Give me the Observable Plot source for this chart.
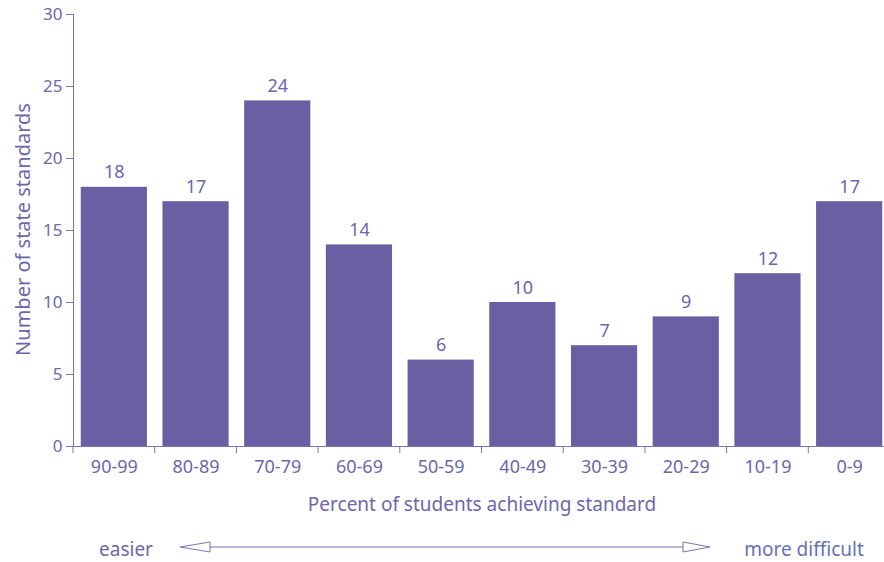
<!DOCTYPE html>
<html>
<head>
<meta charset="utf-8">
<script src="https://cdn.jsdelivr.net/npm/d3@7"></script>
<script src="https://cdn.jsdelivr.net/npm/@observablehq/plot@0.6"></script>
<style>
  html, body { margin: 0; padding: 0; background: #fff; }
  #chart { position: relative; width: 884px; height: 562px; overflow: hidden; }
  #arrow { position: absolute; left: 0; top: 522px; }
</style>
</head>
<body>
<div id="chart"></div>
<script>
const categories = ["90-99","80-89","70-79","60-69","50-59","40-49","30-39","20-29","10-19","0-9"];
const values = [18, 17, 24, 14, 6, 10, 7, 9, 12, 17];
const yTicks = [0, 5, 10, 15, 20, 25, 30];
const yLabel = "Number of state standards";
const xLabel = "Percent of students achieving standard";
const leftNote = "easier";
const rightNote = "more difficult";

const data = categories.map((c, i) => ({cat: c, val: values[i]}));
const barColor = "#6a5fa2";
const textColor = "#6c67ab";
const axisColor = "#7a73b4";
const font = "'Noto Sans', sans-serif";

const plot = Plot.plot({
  width: 884,
  height: 522,
  marginLeft: 73,
  marginRight: 0,
  marginTop: 14,
  marginBottom: 76,
  style: {fontFamily: font, fontSize: "17px", color: textColor, background: "white", overflow: "visible"},
  x: {domain: categories, range: [73, 890], paddingInner: 0.19, paddingOuter: 0.095, align: 0.5, round: false, label: null},
  y: {domain: [0, 30], label: null},
  marks: [
    Plot.barY(data, {x: "cat", y: "val", fill: barColor}),
    Plot.text(data, {x: "cat", y: "val", text: "val", dy: -9, lineAnchor: "bottom", fontSize: 18, fill: textColor}),
    Plot.ruleY([0], {stroke: axisColor, strokeWidth: 1}),
    Plot.frame({anchor: "left", stroke: axisColor, strokeWidth: 1}),
    Plot.axisY({ticks: yTicks, tickSize: 7, tickPadding: 4, fontSize: 17, fill: textColor, stroke: axisColor, label: null}),
    Plot.axisX({tickSize: 0, tickPadding: 14, fontSize: 18, fill: textColor, label: null}),
    Plot.text([yLabel], {frameAnchor: "left", textAnchor: "middle", rotate: -90, dx: -50, dy: -1, fontSize: 20, fill: textColor}),
    Plot.text([xLabel], {frameAnchor: "bottom", dx: 3, dy: 64, fontSize: 19, fill: textColor})
  ]
});

// band-boundary ticks on the x axis, placed with the plot's own x scale
const sx = plot.scale("x");
const sy = plot.scale("y");
const y0 = sy.apply(0);
const gap = (sx.step - sx.bandwidth) / 2;
d3.select(plot).append("g")
  .attr("stroke", axisColor)
  .selectAll("line")
  .data(categories)
  .join("line")
  .attr("x1", d => sx.apply(d) - gap)
  .attr("x2", d => sx.apply(d) - gap)
  .attr("y1", y0)
  .attr("y2", y0 + 7);

const chart = document.getElementById("chart");
chart.appendChild(plot);

// direction note below the x axis label
const arrow = d3.select(chart).append("svg")
  .attr("id", "arrow")
  .attr("width", 884).attr("height", 40)
  .style("font-family", font);
const ay = 25;
arrow.append("text").attr("x", 126).attr("y", ay + 2).attr("dy", "0.35em")
  .attr("text-anchor", "middle").attr("font-size", 19).attr("fill", textColor).text(leftNote);
arrow.append("text").attr("x", 804).attr("y", ay + 2).attr("dy", "0.35em")
  .attr("text-anchor", "middle").attr("font-size", 19).attr("fill", "#6670b2").text(rightNote);
arrow.append("line").attr("x1", 210).attr("x2", 683).attr("y1", ay).attr("y2", ay)
  .attr("stroke", axisColor).attr("stroke-width", 1);
arrow.append("path").attr("d", `M180,${ay} L210,${ay - 5} L210,${ay + 5} Z`)
  .attr("fill", "white").attr("stroke", axisColor);
arrow.append("path").attr("d", `M710,${ay} L683,${ay - 5} L683,${ay + 5} Z`)
  .attr("fill", "white").attr("stroke", axisColor);
</script>
</body>
</html>
